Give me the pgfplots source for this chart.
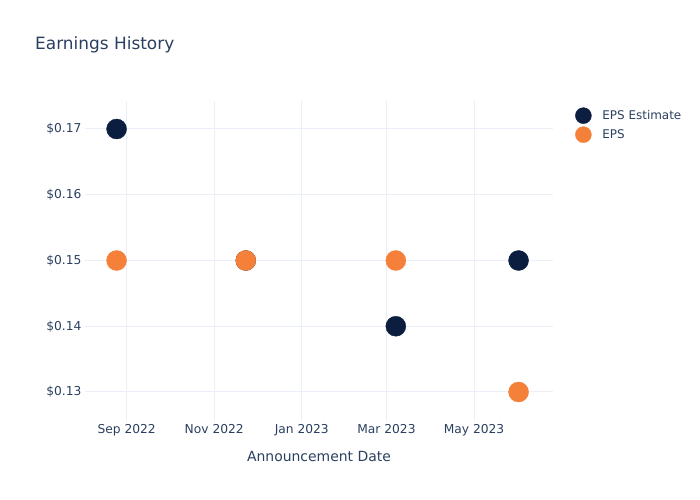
\documentclass[border=0pt]{standalone}
\usepackage{fontspec}
\setmainfont{DejaVu Sans}
\usepackage{pgfplots}
\pgfplotsset{compat=1.18}
\definecolor{navy}{HTML}{0C1E40}
\definecolor{epsorange}{HTML}{F5803A}
\definecolor{txt}{HTML}{2A3F5F}
\definecolor{gridc}{HTML}{EBF0F8}
\begin{document}
\begin{tikzpicture}[x=1bp,y=1bp]
\path[use as bounding box] (0,0) rectangle (700,500);
\node[anchor=west, text=txt, font=\fontsize{17}{20}\selectfont, inner sep=0] at (35,455) {Earnings History};
\begin{axis}[at={(85bp,79bp)}, anchor=south west, scale only axis, width=468bp, height=320bp,
 xmin=-29, xmax=297, ymin=0.12559, ymax=0.17426,
 axis line style={draw=none}, major tick length=0, tick style={draw=none},
 grid=major, major grid style={gridc, line width=1bp},
 xtick={0,61,122,181,242}, xticklabels={Sep 2022,Nov 2022,Jan 2023,Mar 2023,May 2023},
 ytick={0.13,0.14,0.15,0.16,0.17}, yticklabels={\$0.13,\$0.14,\$0.15,\$0.16,\$0.17},
 scaled y ticks=false,
 ticklabel style={font=\fontsize{12.3}{14}\selectfont, text=txt},
 xlabel={Announcement Date},
 xlabel style={at={(axis description cs:0.5,0)}, anchor=center, yshift=-36bp, font=\fontsize{14}{16}\selectfont, text=txt},
 legend style={at={(axis description cs:1.041,0.986)}, anchor=north west, draw=none, fill=none,
   font=\fontsize{12}{14}\selectfont, text=txt, row sep=3bp},
 legend cell align=left,
 legend image code/.code={\draw[#1, mark size=8bp] plot coordinates {(0bp,0bp)}; \path[draw=none, fill=none] (0bp,0bp) -- (17bp,0bp);},
 clip=false,
]
\addplot[only marks, mark=*, mark size=10bp, mark options={fill=navy, draw=navy}]
 coordinates {(-7,0.17) (83,0.15) (187.5,0.14) (273,0.15)};
\addlegendentry{EPS Estimate}
\addplot[only marks, mark=*, mark size=10bp, mark options={fill=epsorange, draw=epsorange}]
 coordinates {(-7,0.15) (83,0.15) (187.5,0.15) (273,0.13)};
\addlegendentry{EPS}
\end{axis}
\end{tikzpicture}
\end{document}
